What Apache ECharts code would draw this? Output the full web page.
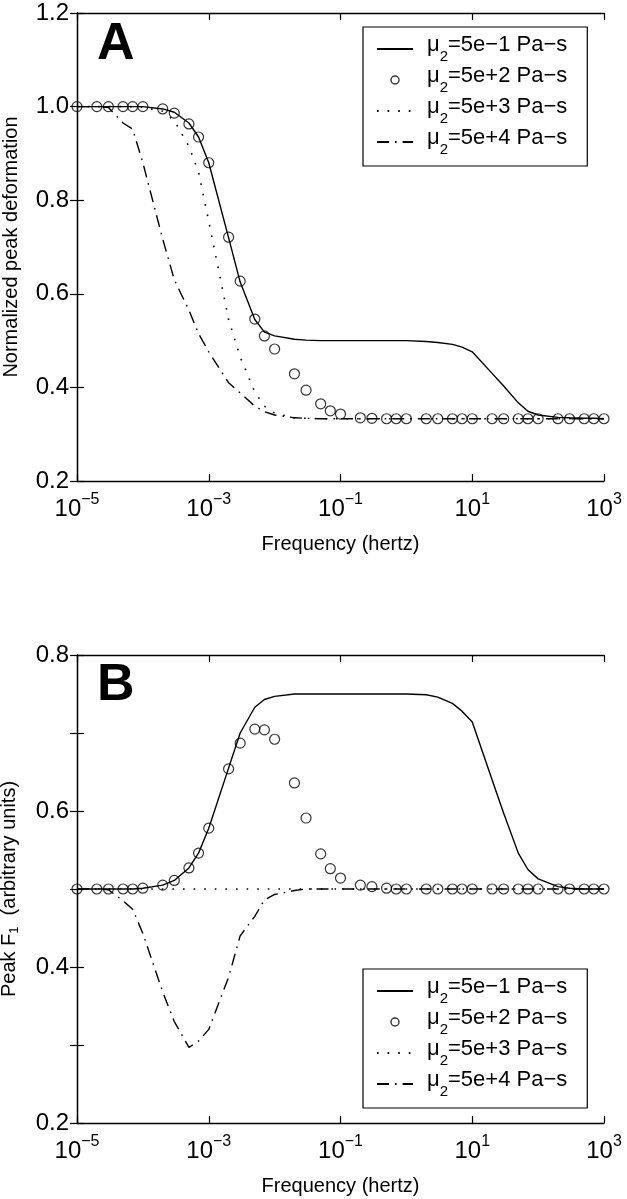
<!DOCTYPE html>
<html><head><meta charset="utf-8">
<script src="https://cdn.jsdelivr.net/npm/echarts@6/dist/echarts.min.js"></script>
<style>html,body{margin:0;padding:0;background:#fff}#c{width:627px;height:1199px}</style>
</head><body><div id="c"></div>
<script>
// Frequencies (Hz) shared by all curves and markers
const freqs = [1e-5,2e-5,3e-5,5e-5,7e-5, 1e-4,2e-4,3e-4,5e-4,7e-4, 1e-3,2e-3,3e-3,5e-3,7e-3,
  1e-2,2e-2,3e-2,5e-2,7e-2, 0.1,0.2,0.3,0.5,0.7, 1,2,3,5,7, 10,20,30,50,70, 100,200,300,500,700, 1000];
const viscosityLabels = ['5e−1','5e+2','5e+3','5e+4'];
const xTickExponents = [-5,-3,-1,1,3];

// Panel A: normalized peak deformation
const aSolid   = [1,1,1,1,1, 1,0.995,0.988,0.965,0.935, 0.88,0.72,0.625,0.545,0.518,
  0.51,0.503,0.501,0.5,0.5, 0.5,0.5,0.5,0.5,0.5, 0.5,0.498,0.496,0.492,0.486,
  0.476,0.43,0.403,0.367,0.349, 0.341,0.336,0.335,0.334,0.334, 0.333];
const aCircle  = [1,1,1,1,1, 1,0.995,0.986,0.963,0.935, 0.88,0.721,0.627,0.546,0.51,
  0.482,0.429,0.394,0.365,0.35, 0.343,0.335,0.334,0.333,0.333, 0.333,0.333,0.333,0.333,0.333,
  0.333,0.333,0.333,0.333,0.333, 0.333,0.333,0.333,0.333,0.333, 0.333];
const aDotted  = [1,1,1,1,1, 0.998,0.99,0.97,0.915,0.86, 0.755,0.545,0.465,0.39,0.36,
  0.345,0.335,0.334,0.333,0.333, 0.333,0.333,0.333,0.333,0.333, 0.333,0.333,0.333,0.333,0.333,
  0.333,0.333,0.333,0.333,0.333, 0.333,0.333,0.333,0.333,0.333, 0.333];
const aDashDot = [1,1,0.998,0.965,0.952, 0.88,0.717,0.63,0.565,0.515, 0.476,0.41,0.388,0.36,0.348,
  0.341,0.335,0.334,0.333,0.333, 0.333,0.333,0.333,0.333,0.333, 0.333,0.333,0.333,0.333,0.333,
  0.333,0.333,0.333,0.333,0.333, 0.333,0.333,0.333,0.333,0.333, 0.333];

// Panel B: peak F1
const bSolid   = [0.5,0.5,0.5,0.5,0.5, 0.501,0.505,0.511,0.527,0.546, 0.578,0.655,0.70,0.733,0.743,
  0.747,0.75,0.75,0.75,0.75, 0.75,0.75,0.75,0.75,0.75, 0.75,0.749,0.746,0.738,0.728,
  0.714,0.64,0.597,0.546,0.525, 0.513,0.503,0.501,0.5,0.5, 0.5];
const bCircle  = [0.5,0.5,0.5,0.5,0.5, 0.501,0.505,0.511,0.527,0.546, 0.578,0.654,0.687,0.705,0.704,
  0.692,0.636,0.591,0.545,0.526, 0.514,0.505,0.503,0.501,0.5, 0.5,0.5,0.5,0.5,0.5,
  0.5,0.5,0.5,0.5,0.5, 0.5,0.5,0.5,0.5,0.5, 0.5];
const bDotted  = [0.5,0.5,0.5,0.5,0.5, 0.5,0.5,0.5,0.5,0.5, 0.5,0.5,0.5,0.5,0.5,
  0.5,0.5,0.5,0.5,0.5, 0.5,0.5,0.5,0.5,0.5, 0.5,0.5,0.5,0.5,0.5,
  0.5,0.5,0.5,0.5,0.5, 0.5,0.5,0.5,0.5,0.5, 0.5];
const bDashDot = [0.5,0.5,0.499,0.485,0.474, 0.443,0.368,0.33,0.297,0.305, 0.32,0.387,0.44,0.465,0.486,
  0.493,0.498,0.5,0.5,0.5, 0.5,0.5,0.5,0.5,0.5, 0.5,0.5,0.5,0.5,0.5,
  0.5,0.5,0.5,0.5,0.5, 0.5,0.5,0.5,0.5,0.5, 0.5];

const FONT = "'Liberation Sans', Arial, Helvetica, sans-serif";
const chart = echarts.init(document.getElementById('c'), null, {renderer:'canvas'});

// x position: decades above 1e-5 on a linear value axis
const toXY = (vals) => freqs.map((f,i) => [Math.log10(f) + 5, vals[i]]);

const panels = [
  {top:13, ymin:0.2, ymax:1.2, yint:0.2, yname:'Normalized peak deformation',
   data:[aSolid,aCircle,aDotted,aDashDot], letter:'A', letterY:45, legendTop:27},
  {top:655, ymin:0.2, ymax:0.8, yint:0.1, yname:'{t|Peak F}{sb|1}{t|  (arbitrary units)}',
   data:[bSolid,bCircle,bDotted,bDashDot], letter:'B', letterY:686, legendTop:969}
];

const axisLineStyle = {show:true, lineStyle:{color:'#000', width:1.3}};
const tickStyle = {show:true, inside:true, length:7, lineStyle:{color:'#000', width:1.2}};

const grid = [], xAxis = [], yAxis = [], series = [], legend = [], graphic = [];
const lineStyles = [
  {type:'solid', width:1.4},
  null,
  {type:[1.6,9], width:1.6, cap:'butt'},
  {type:[12,6,1.6,6], width:1.4, cap:'butt'}
];

panels.forEach((p, gi) => {
  grid.push({left:77, top:p.top, width:527, height:468, containLabel:false, outerBoundsMode:'none'});
  xAxis.push({
    type:'value', gridIndex:gi, min:0, max:8, interval:2, position:'bottom',
    axisLine:axisLineStyle, axisTick:tickStyle, splitLine:{show:false},
    axisLabel:{
      margin:11, color:'#000', fontFamily:FONT,
      formatter: v => {
        const e = xTickExponents[Math.round(v/2)];
        return '{b|10}{s|' + (e < 0 ? '−' + (-e) : e) + '}';
      },
      rich:{
        b:{fontSize:24, lineHeight:24, padding:[10,0,0,0], fontFamily:FONT, color:'#000'},
        s:{fontSize:16, lineHeight:16, padding:[0,0,14,0], verticalAlign:'top', fontFamily:FONT, color:'#000'}
      }
    },
    name:'Frequency (hertz)', nameLocation:'middle', nameGap:53,
    nameTextStyle:{fontSize:20, color:'#000', fontFamily:FONT}
  });
  xAxis.push({
    type:'value', gridIndex:gi, min:0, max:8, interval:2, position:'top',
    axisLine:axisLineStyle, axisTick:tickStyle, splitLine:{show:false}, axisLabel:{show:false}
  });
  yAxis.push({
    type:'value', gridIndex:gi, min:p.ymin, max:p.ymax, interval:p.yint, position:'left',
    axisLine:axisLineStyle, axisTick:tickStyle, splitLine:{show:false},
    axisLabel:{
      margin:8, fontSize:24, color:'#000', fontFamily:FONT,
      formatter: v => (Math.round(v*10) % 2 === 0) ? v.toFixed(1) : ''
    },
    name:p.yname, nameLocation:'middle', nameGap:56,
    nameTextStyle:{fontSize:20, color:'#000', fontFamily:FONT,
      rich:{
        t:{fontSize:20, lineHeight:24, fontFamily:FONT, color:'#000'},
        sb:{fontSize:13, lineHeight:13, verticalAlign:'bottom', fontFamily:FONT, color:'#000'}
      }}
  });
  yAxis.push({
    type:'value', gridIndex:gi, min:p.ymin, max:p.ymax, interval:p.yint, position:'right',
    axisLine:axisLineStyle, axisTick:tickStyle, splitLine:{show:false}, axisLabel:{show:false}
  });

  p.data.forEach((vals, k) => {
    const base = {name:viscosityLabels[k], xAxisIndex:gi*2, yAxisIndex:gi*2, data:toXY(vals), silent:true};
    if (k === 1) {
      series.push(Object.assign(base, {
        type:'scatter', symbol:'circle', symbolSize:10, z:3,
        itemStyle:{color:'rgba(0,0,0,0)', borderColor:'#000', borderWidth:1.2}
      }));
    } else {
      series.push(Object.assign(base, {
        type:'line', symbol:'none', smooth:false, z:2,
        itemStyle:{color:'rgba(0,0,0,0)', borderWidth:0},
        lineStyle:Object.assign({color:'#000'}, lineStyles[k])
      }));
    }
  });

  legend.push({
    orient:'vertical', left:363, top:p.legendTop,
    padding:[7,20,9,13], itemGap:1, itemWidth:36, itemHeight:8,
    borderColor:'#000', borderWidth:1.2, backgroundColor:'#fff', selectedMode:false,
    data: viscosityLabels.map((n,k) => k === 1
      ? {name:n, icon:'circle', itemStyle:{color:'rgba(0,0,0,0)', borderColor:'#000', borderWidth:1.4}}
      : {name:n}),
    formatter: n => '{g| }{m|μ}{s|2}{m|=' + n + ' Pa−s}',
    textStyle:{color:'#000', fontFamily:FONT, rich:{
      g:{width:9, fontSize:20, lineHeight:30},
      m:{fontSize:22, lineHeight:25, verticalAlign:'top', fontFamily:FONT, color:'#000'},
      s:{fontSize:15, lineHeight:15, verticalAlign:'bottom', fontFamily:FONT, color:'#000'}
    }}
  });

  graphic.push({type:'text', x:97, y:p.letterY, z:10,
    style:{text:p.letter, fontSize:52, fontWeight:'bold', fontFamily:FONT, fill:'#000',
      align:'left', verticalAlign:'middle'}});
});

chart.setOption({animation:false, backgroundColor:'#fff', grid, xAxis, yAxis, series, legend, graphic});
</script></body></html>
